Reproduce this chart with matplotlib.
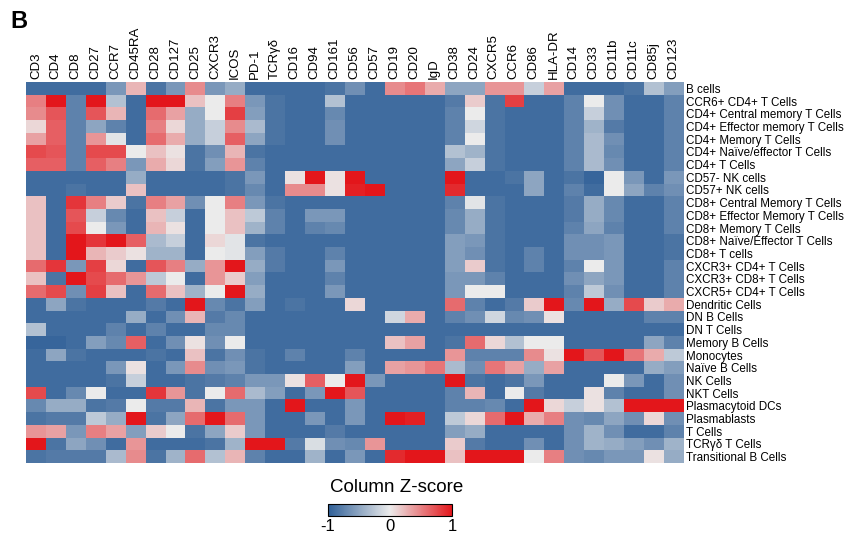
"""Column Z-score heatmap of marker expression across immune cell populations (panel B)."""
import matplotlib

matplotlib.use("Agg")
import matplotlib.pyplot as plt
import numpy as np
from matplotlib.colors import LinearSegmentedColormap

# marker columns, split into panels
T_MARKERS = ["CD3", "CD4", "CD8", "CD27", "CCR7", "CD45RA", "CD28", "CD127",
             "CD25", "CXCR3", "ICOS"]
NK_MARKERS = ["PD-1", "TCRγδ", "CD16", "CD94", "CD161", "CD56", "CD57"]
B_MARKERS = ["CD19", "CD20", "IgD", "CD38", "CD24", "CXCR5", "CCR6"]
MYELOID_MARKERS = ["CD86", "HLA-DR", "CD14", "CD33", "CD11b", "CD11c",
                   "CD85j", "CD123"]

CELL_TYPES = [
    "B cells",
    "CCR6+ CD4+ T Cells",
    "CD4+ Central memory T Cells",
    "CD4+ Effector memory T Cells",
    "CD4+ Memory T Cells",
    "CD4+ Naïve/effector T Cells",
    "CD4+ T Cells",
    "CD57- NK cells",
    "CD57+ NK cells",
    "CD8+ Central Memory T Cells",
    "CD8+ Effector Memory T Cells",
    "CD8+ Memory T Cells",
    "CD8+ Naïve/Effector T Cells",
    "CD8+ T cells",
    "CXCR3+ CD4+ T Cells",
    "CXCR3+ CD8+ T Cells",
    "CXCR5+ CD4+ T Cells",
    "Dendritic Cells",
    "DN B Cells",
    "DN T Cells",
    "Memory B Cells",
    "Monocytes",
    "Naïve B Cells",
    "NK Cells",
    "NKT Cells",
    "Plasmacytoid DCs",
    "Plasmablasts",
    "T Cells",
    "TCRγδ T Cells",
    "Transitional B Cells",
]

# z-scores, one row per cell type
T_PANEL = [
    [-0.9, -0.9, -0.9, -0.9, -0.6, 0.25, -0.85, -0.6, 0.45, -0.6, -0.45],
    [0.5, 1.0, -0.75, 1.0, -0.3, -0.9, 1.0, 1.0, 0.2, 0.0, 0.5],
    [0.45, 0.7, -0.75, 0.7, 0.25, -0.9, 0.6, 0.35, -0.45, 0.0, 0.8],
    [0.1, 0.65, -0.75, -0.5, -0.75, -0.9, 0.5, 0.1, -0.45, -0.2, 0.45],
    [0.35, 0.65, -0.75, 0.4, -0.05, -0.9, 0.6, 0.3, -0.45, -0.2, 0.65],
    [0.75, 0.7, -0.75, 0.75, 0.75, 0.0, 0.2, 0.05, -0.85, -0.65, 0.25],
    [0.65, 0.65, -0.75, 0.65, 0.5, -0.6, 0.3, 0.1, -0.85, -0.55, 0.4],
    [-0.9, -0.9, -0.9, -0.9, -0.9, -0.45, -0.9, -0.9, -0.9, -0.9, -0.85],
    [-0.9, -0.9, -0.85, -0.9, -0.9, 0.2, -0.9, -0.9, -0.9, -0.9, -0.85],
    [0.2, -0.9, 0.85, 0.5, 0.15, -0.85, 0.5, 0.35, -0.65, 0.0, 0.5],
    [0.2, -0.9, 0.7, -0.2, -0.7, -0.9, 0.2, -0.2, -0.9, 0.0, 0.2],
    [0.2, -0.9, 0.75, 0.0, -0.6, -0.9, 0.25, 0.05, -0.9, 0.0, 0.2],
    [0.2, -0.9, 1.0, 0.85, 1.0, 0.65, -0.35, -0.2, -0.9, 0.1, -0.05],
    [0.2, -0.9, 1.0, 0.25, 0.15, 0.05, -0.4, -0.4, -0.9, 0.0, -0.05],
    [0.6, 0.85, -0.6, 0.8, 0.1, -0.9, 0.7, 0.5, -0.45, 0.4, 1.0],
    [0.2, -0.85, 1.0, 0.75, 0.6, 0.4, -0.25, 0.0, -0.9, 0.4, 0.15],
    [0.6, 0.75, -0.65, 0.8, 0.2, -0.9, 0.6, 0.2, -0.4, 0.0, 1.0],
    [-0.9, -0.5, -0.85, -0.9, -0.9, -0.9, -0.8, -0.9, 1.0, -0.7, -0.85],
    [-0.9, -0.9, -0.9, -0.9, -0.9, -0.45, -0.9, -0.65, 0.25, -0.8, -0.7],
    [-0.3, -0.9, -0.9, -0.9, -0.75, -0.9, -0.75, -0.9, -0.9, -0.7, -0.7],
    [-0.95, -0.95, -0.9, -0.55, -0.7, 0.65, -0.9, -0.65, 0.05, -0.65, 0.0],
    [-0.9, -0.5, -0.85, -0.9, -0.9, -0.9, -0.85, -0.9, 0.2, -0.85, -0.65],
    [-0.9, -0.9, -0.9, -0.9, -0.6, 0.05, -0.9, -0.6, 0.45, -0.65, -0.6],
    [-0.9, -0.9, -0.9, -0.9, -0.85, -0.2, -0.9, -0.9, -0.85, -0.8, -0.75],
    [0.75, -0.9, -0.7, 0.0, -0.9, -0.9, 0.85, 0.4, -0.85, 0.0, 0.6],
    [-0.7, -0.45, -0.45, -0.85, -0.8, 0.0, -0.8, -0.8, 0.25, -0.85, -0.6],
    [-0.85, -0.8, -0.8, -0.25, -0.45, 1.0, -0.85, -0.5, 0.6, 1.0, 0.6],
    [0.4, 0.35, -0.6, 0.5, 0.35, -0.55, 0.15, 0.0, -0.85, -0.5, 0.15],
    [1.0, -0.85, -0.5, -0.65, -0.9, 0.4, -0.9, -0.9, -0.9, -0.85, -0.4],
    [-0.85, -0.8, -0.8, -0.8, -0.35, 0.45, -0.85, -0.4, 0.6, -0.3, 0.25],
]

NK_PANEL = [
    [-0.9, -0.9, -0.9, -0.9, -0.85, -0.65, -0.9],
    [-0.6, -0.85, -0.9, -0.9, -0.3, -0.9, -0.9],
    [-0.55, -0.85, -0.9, -0.9, -0.7, -0.9, -0.9],
    [-0.35, -0.85, -0.9, -0.9, -0.65, -0.9, -0.9],
    [-0.5, -0.85, -0.9, -0.9, -0.65, -0.9, -0.9],
    [-0.85, -0.9, -0.9, -0.9, -0.9, -0.9, -0.9],
    [-0.75, -0.9, -0.9, -0.9, -0.9, -0.9, -0.9],
    [-0.6, -0.9, 0.05, 1.0, 0.05, 1.0, -0.9],
    [-0.7, -0.9, 0.45, 0.45, 0.05, 0.95, 1.0],
    [-0.6, -0.85, -0.9, -0.9, -0.9, -0.9, -0.9],
    [-0.25, -0.75, -0.9, -0.6, -0.6, -0.9, -0.9],
    [-0.4, -0.75, -0.9, -0.75, -0.7, -0.9, -0.9],
    [-0.85, -0.9, -0.9, -0.9, -0.9, -0.9, -0.9],
    [-0.55, -0.8, -0.9, -0.9, -0.75, -0.9, -0.9],
    [-0.45, -0.8, -0.9, -0.9, -0.6, -0.9, -0.9],
    [-0.55, -0.9, -0.9, -0.9, -0.75, -0.9, -0.9],
    [-0.45, -0.9, -0.9, -0.9, -0.6, -0.9, -0.9],
    [-0.55, -0.9, -0.85, -0.9, -0.9, 0.1, -0.9],
    [-0.9, -0.9, -0.9, -0.9, -0.9, -0.9, -0.9],
    [-0.9, -0.9, -0.9, -0.9, -0.9, -0.9, -0.9],
    [-0.9, -0.9, -0.9, -0.9, -0.9, -0.9, -0.9],
    [-0.85, -0.9, -0.75, -0.9, -0.9, -0.75, -0.9],
    [-0.85, -0.9, -0.9, -0.9, -0.9, -0.55, -0.9],
    [-0.6, -0.6, 0.05, 0.65, 0.0, 1.0, -0.6],
    [-0.35, -0.55, -0.9, -0.6, 1.0, 0.7, -0.9],
    [-0.6, -0.9, 1.0, -0.9, -0.9, -0.6, -0.9],
    [-0.6, -0.9, -0.9, -0.6, -0.9, -0.6, -0.9],
    [-0.6, -0.9, -0.9, -0.9, -0.8, -0.9, -0.9],
    [1.0, 1.0, -0.8, -0.1, -0.65, -0.7, 0.4],
    [-0.75, -0.9, -0.9, -0.4, -0.9, -0.6, -0.9],
]

B_PANEL = [
    [0.45, 0.55, 0.3, -0.5, -0.5, 0.4, 0.4],
    [-0.9, -0.9, -0.9, -0.8, 0.15, -0.85, 0.8],
    [-0.9, -0.9, -0.9, -0.75, 0.0, -0.85, -0.9],
    [-0.9, -0.9, -0.9, -0.75, -0.15, -0.85, -0.9],
    [-0.9, -0.9, -0.9, -0.75, 0.0, -0.85, -0.9],
    [-0.9, -0.9, -0.9, -0.3, -0.4, -0.85, -0.9],
    [-0.9, -0.9, -0.9, -0.5, -0.2, -0.85, -0.9],
    [-0.9, -0.9, -0.9, 1.0, -0.9, -0.9, -0.85],
    [-0.9, -0.9, -0.9, 0.9, -0.9, -0.9, -0.9],
    [-0.9, -0.9, -0.9, -0.75, -0.05, -0.85, -0.9],
    [-0.9, -0.9, -0.9, -0.7, -0.45, -0.85, -0.9],
    [-0.9, -0.9, -0.9, -0.7, -0.45, -0.85, -0.9],
    [-0.9, -0.9, -0.9, -0.55, -0.6, -0.85, -0.9],
    [-0.9, -0.9, -0.9, -0.55, -0.65, -0.85, -0.9],
    [-0.9, -0.9, -0.9, -0.55, 0.15, -0.85, -0.9],
    [-0.9, -0.9, -0.9, -0.6, -0.6, -0.75, -0.9],
    [-0.9, -0.9, -0.9, -0.6, 0.0, 0.0, -0.9],
    [-0.9, -0.9, -0.9, 0.6, -0.75, -0.9, -0.8],
    [-0.15, 0.3, -0.9, -0.75, -0.65, -0.15, -0.7],
    [-0.9, -0.9, -0.9, -0.9, -0.9, -0.9, -0.9],
    [0.2, 0.35, -0.9, -0.85, 0.6, 0.1, -0.3],
    [-0.9, -0.9, -0.9, 0.4, -0.75, -0.75, -0.75],
    [0.35, 0.4, 0.55, -0.35, -0.65, 0.55, 0.35],
    [-0.9, -0.9, -0.9, 1.0, -0.85, -0.9, -0.85],
    [-0.9, -0.9, -0.9, -0.75, 0.25, -0.9, 0.0],
    [-0.9, -0.9, -0.9, -0.75, -0.75, -0.7, -0.9],
    [1.0, 0.95, -0.9, -0.25, 0.1, 0.6, 1.0],
    [-0.9, -0.9, -0.9, -0.55, -0.45, -0.9, -0.9],
    [-0.9, -0.9, -0.9, 0.15, -0.8, -0.9, -0.9],
    [0.9, 1.0, 1.0, 0.2, 1.0, 1.0, 1.0],
]

MYELOID_PANEL = [
    [-0.2, 0.35, -0.9, -0.9, -0.9, -0.85, -0.3, -0.55],
    [-0.9, -0.9, -0.75, 0.0, -0.65, -0.9, -0.9, -0.75],
    [-0.9, -0.9, -0.75, -0.2, -0.65, -0.9, -0.9, -0.75],
    [-0.9, -0.9, -0.75, -0.4, -0.8, -0.9, -0.9, -0.75],
    [-0.9, -0.9, -0.75, -0.35, -0.65, -0.9, -0.9, -0.75],
    [-0.9, -0.9, -0.75, -0.35, -0.7, -0.9, -0.9, -0.75],
    [-0.9, -0.9, -0.75, -0.35, -0.65, -0.9, -0.9, -0.75],
    [-0.5, -0.9, -0.85, -0.95, 0.0, -0.6, -0.9, -0.6],
    [-0.5, -0.9, -0.75, -0.9, 0.0, -0.5, -0.75, -0.65],
    [-0.9, -0.9, -0.8, -0.45, -0.7, -0.9, -0.9, -0.75],
    [-0.9, -0.9, -0.8, -0.45, -0.7, -0.9, -0.9, -0.75],
    [-0.9, -0.9, -0.75, -0.5, -0.75, -0.9, -0.9, -0.75],
    [-0.9, -0.9, -0.65, -0.65, -0.6, -0.9, -0.9, -0.85],
    [-0.75, -0.9, -0.65, -0.65, -0.6, -0.9, -0.9, -0.85],
    [-0.75, -0.9, -0.75, 0.0, -0.6, -0.9, -0.9, -0.75],
    [-0.9, -0.9, -0.65, -0.5, -0.6, -0.9, -0.9, -0.75],
    [-0.9, -0.9, -0.75, -0.25, -0.65, -0.9, -0.9, -0.75],
    [0.15, 1.0, -0.7, 1.0, -0.45, 0.75, 0.15, 0.3],
    [-0.65, 0.05, -0.9, -0.9, -0.9, -0.9, -0.75, -0.75],
    [-0.9, -0.9, -0.9, -0.9, -0.9, -0.9, -0.9, -0.9],
    [0.0, 0.0, -0.9, -0.9, -0.9, -0.9, -0.5, -0.75],
    [0.45, 0.05, 1.0, 0.7, 1.0, 0.55, 0.3, -0.25],
    [-0.45, 0.35, -0.9, -0.9, -0.9, -0.9, -0.45, -0.55],
    [-0.6, -0.9, -0.9, -0.9, 0.0, -0.6, -0.9, -0.65],
    [-0.8, -0.9, -0.9, 0.05, -0.75, -0.9, -0.9, -0.65],
    [1.0, 0.1, -0.2, 0.05, -0.3, 1.0, 1.0, 1.0],
    [0.3, 0.5, -0.65, -0.7, -0.5, -0.65, 0.1, -0.65],
    [-0.9, -0.9, -0.65, -0.4, -0.65, -0.9, -0.9, -0.75],
    [-0.65, -0.9, -0.65, -0.4, -0.45, -0.55, -0.65, -0.4],
    [0.0, 0.5, -0.65, -0.7, -0.6, -0.6, 0.05, -0.45],
]

W, H = 847, 537


def px_box(x0, y0, x1, y1):
    """Figure-fraction rect from pixel corners (origin top-left)."""
    return [x0 / W, 1 - y1 / H, (x1 - x0) / W, (y1 - y0) / H]


def main() -> None:
    plt.rcParams["font.family"] = ["Liberation Sans", "DejaVu Sans"]

    z = np.hstack([np.array(T_PANEL), np.array(NK_PANEL),
                   np.array(B_PANEL), np.array(MYELOID_PANEL)])
    markers = T_MARKERS + NK_MARKERS + B_MARKERS + MYELOID_MARKERS

    cmap = LinearSegmentedColormap.from_list(
        "zscore", ["#2f5f97", "#ececec", "#e3161b"])

    fig = plt.figure(figsize=(W / 100, H / 100), dpi=100)
    ax = fig.add_axes(px_box(26, 82, 683, 463))
    im = ax.imshow(z, cmap=cmap, vmin=-1, vmax=1, aspect="auto",
                   interpolation="nearest")

    ax.set_xticks(np.arange(len(markers)), markers, rotation=90, fontsize=9.5)
    ax.xaxis.tick_top()
    # long row names only just fit before the right edge
    ax.set_yticks(np.arange(len(CELL_TYPES)), CELL_TYPES, fontsize=8.4)
    ax.yaxis.tick_right()
    ax.tick_params(length=0, pad=2)
    for s in ax.spines.values():
        s.set_visible(False)

    fig.text(10 / W, 1 - 28 / H, "B", fontsize=17, fontweight="bold")

    cax = fig.add_axes(px_box(328, 504, 452, 516))
    cb = fig.colorbar(im, cax=cax, orientation="horizontal", ticks=[-1, 0, 1])
    cb.ax.set_xticklabels(["-1", "0", "1"])
    cb.ax.tick_params(length=0, labelsize=12, pad=2)
    cb.outline.set_linewidth(0.8)
    fig.text(397 / W, 1 - 487 / H, "Column Z-score", ha="center",
             va="center", fontsize=13.5)

    fig.savefig("out.png", dpi=100)
    plt.close(fig)


if __name__ == "__main__":
    main()
